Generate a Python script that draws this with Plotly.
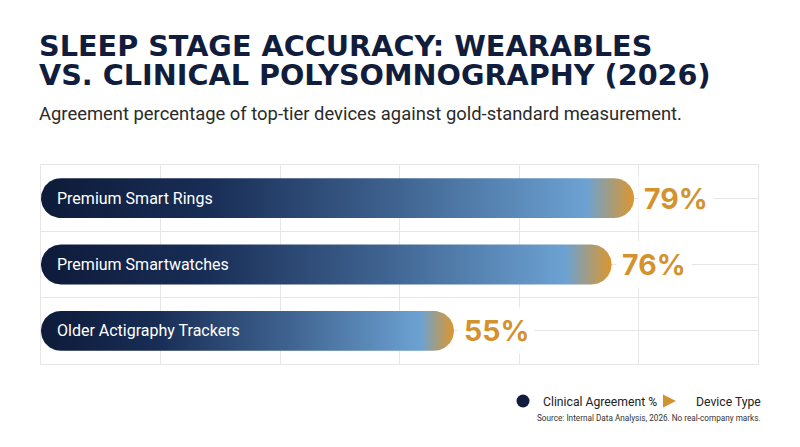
import numpy as np
import plotly.graph_objects as go

# ---------------- data ----------------
categories = ["Premium Smart Rings", "Premium Smartwatches", "Older Actigraphy Trackers"]
agreement = [79, 76, 55]
value_labels = ["79%", "76%", "55%"]
series_names = ["Clinical Agreement %", "Device Type"]

# ---------------- style / layout constants ----------------
W, H = 800, 447
ML, MR, MT, MB = 41, 42, 165, 83
PLOT_W = W - ML - MR
PLOT_H = H - MT - MB
X_MAX = 95.5
Y_MIN, Y_MAX = -0.5, 2.5
HALF_H = 0.3  # half bar thickness in category units

NAVY = "#111d3c"
ORANGE = "#D4922F"
GRID = "#e6e6e6"
GRADIENT = [
    [0.0, "#0e1b3a"],
    [0.28, "#182d55"],
    [0.6, "#3f6390"],
    [0.92, "#6ca2d2"],
    [1.0, "#dc962e"],
]

px_per_x = PLOT_W / X_MAX
px_per_y = PLOT_H / (Y_MAX - Y_MIN)
r_px = HALF_H * px_per_y
r_x = r_px / px_per_x

n = len(categories)
ypos = [n - 1 - i for i in range(n)]  # first category on top


def stadium(v, c):
    t_r = np.linspace(-np.pi / 2, np.pi / 2, 40)
    t_l = np.linspace(np.pi / 2, 3 * np.pi / 2, 40)
    xr = (v - r_x) + r_x * np.cos(t_r)
    yr = c + HALF_H * np.sin(t_r)
    xl = r_x + r_x * np.cos(t_l)
    yl = c + HALF_H * np.sin(t_l)
    xs = np.concatenate([xr, xl, xr[:1]])
    ys = np.concatenate([yr, yl, yr[:1]])
    return xs, ys


fig = go.Figure()

for cat, v, c in zip(categories, agreement, ypos):
    xs, ys = stadium(v, c)
    fig.add_trace(go.Scatter(
        x=xs, y=ys, mode="lines", fill="toself",
        line=dict(width=0, color="rgba(0,0,0,0)"),
        fillgradient=dict(type="horizontal", colorscale=GRADIENT),
        hoverinfo="text", text=f"{cat}: {v}%",
        showlegend=False,
    ))

# legend-only entries
fig.add_trace(go.Scatter(
    x=[None], y=[None], mode="markers", name=series_names[0],
    marker=dict(symbol="circle", size=13, color=NAVY), legendwidth=108,
))
fig.add_trace(go.Scatter(
    x=[None], y=[None], mode="markers", name=series_names[1],
    marker=dict(symbol="arrow-right", size=13, color=ORANGE),
))

annotations = []
for cat, lab, v, c in zip(categories, value_labels, agreement, ypos):
    annotations.append(dict(
        x=0, y=c, xref="x", yref="y", text=cat, showarrow=False,
        xanchor="left", yanchor="middle", xshift=14,
        font=dict(family="Roboto", size=16, color="white"),
    ))
    annotations.append(dict(
        x=v, y=c, xref="x", yref="y", text=lab, showarrow=False,
        xanchor="left", yanchor="middle", xshift=4,
        bgcolor="white", borderpad=5,
        font=dict(family="Inter", size=28.5, color=ORANGE, weight=700),
    ))


def py(p):
    return (H - MB - p) / PLOT_H


def px(p):
    return (p - ML) / PLOT_W


TITLE_FONT = dict(family="DejaVu Sans", size=28.7, color=NAVY, weight="bold")
annotations += [
    dict(x=px(37), y=py(45.5), xref="paper", yref="paper", showarrow=False,
         xanchor="left", yanchor="middle",
         text="SLEEP STAGE ACCURACY: WEARABLES", font=TITLE_FONT),
    dict(x=px(37), y=py(74.5), xref="paper", yref="paper", showarrow=False,
         xanchor="left", yanchor="middle",
         text="VS. CLINICAL POLYSOMNOGRAPHY (2026)", font=TITLE_FONT),
    dict(x=px(37), y=py(113), xref="paper", yref="paper", showarrow=False,
         xanchor="left", yanchor="middle",
         text="Agreement percentage of top-tier devices against gold-standard measurement.",
         font=dict(family="Roboto", size=18.4, color="#2a2a2a")),
    dict(x=px(763), y=py(418), xref="paper", yref="paper", showarrow=False,
         xanchor="right", yanchor="middle",
         text="Source: Internal Data Analysis, 2026. No real-company marks.",
         font=dict(family="Roboto", size=8.2, color="#333333")),
]

fig.update_layout(
    width=W, height=H,
    margin=dict(l=ML, r=MR, t=MT, b=MB, pad=0),
    paper_bgcolor="white", plot_bgcolor="white",
    showlegend=True,
    legend=dict(
        orientation="h", x=px(767), xanchor="right", y=py(401), yanchor="middle",
        font=dict(family="Roboto", size=12.2, color="#222222"),
        bgcolor="rgba(0,0,0,0)", itemwidth=30,
    ),
    annotations=annotations,
    xaxis=dict(
        range=[0, X_MAX], tickvals=[X_MAX * k / 6 for k in range(7)],
        showticklabels=False, showgrid=True, gridcolor=GRID, gridwidth=1,
        zeroline=False, showline=True, mirror=True, linecolor=GRID, linewidth=1,
        fixedrange=True,
    ),
    yaxis=dict(
        range=[Y_MIN, Y_MAX], tick0=Y_MIN, dtick=0.5,
        showticklabels=False, showgrid=True, gridcolor=GRID, gridwidth=1,
        zeroline=False, showline=True, mirror=True, linecolor=GRID, linewidth=1,
        fixedrange=True,
    ),
)

fig.write_html(
    "out.html",
    config={"displayModeBar": False},
    post_script="document.body.style.margin='0';",
)
